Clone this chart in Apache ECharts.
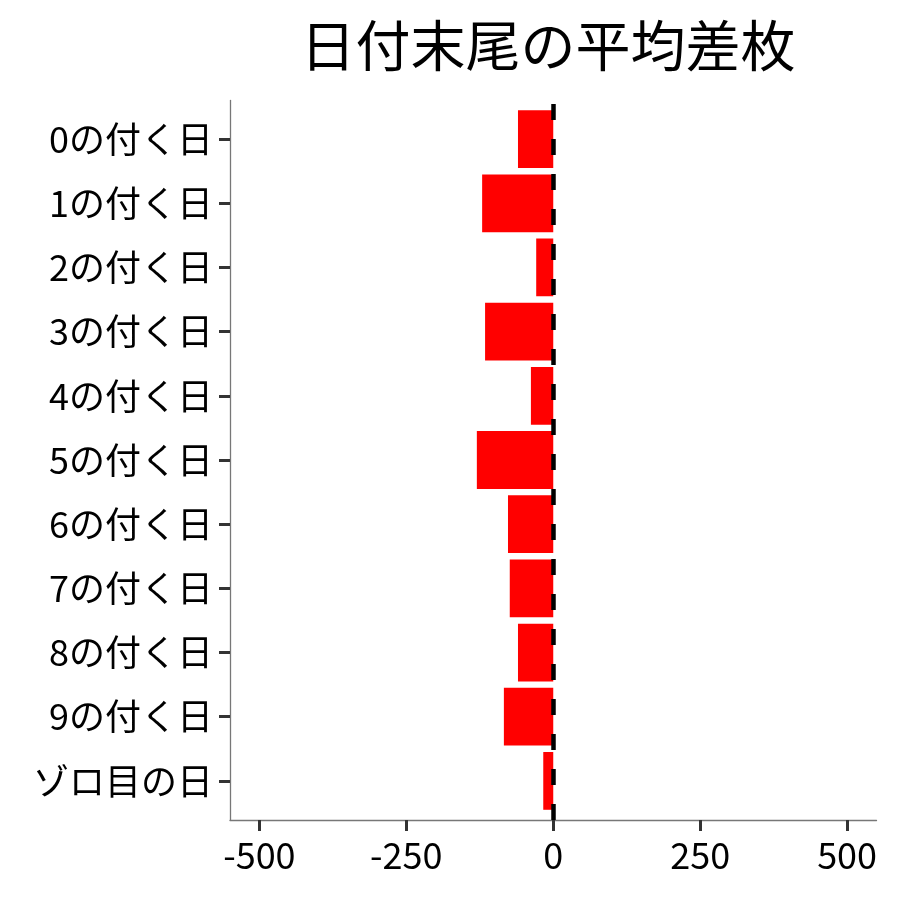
<!DOCTYPE html>
<html><head><meta charset="utf-8">
<script src="https://cdn.jsdelivr.net/npm/echarts@6/dist/echarts.min.js"></script>
<style>html,body{margin:0;padding:0;background:#fff}#c{width:900px;height:900px}</style>
</head><body><div id="c"></div>
<script>
const categories = ['0の付く日','1の付く日','2の付く日','3の付く日','4の付く日','5の付く日','6の付く日','7の付く日','8の付く日','9の付く日','ゾロ目の日'];
const avgDiff = [-60, -121, -29, -116, -38, -130, -77, -74, -60, -84, -17];
const xTicks = [-500, -250, 0, 250, 500];
const titleText = '日付末尾の平均差枚';

const FONT = '"Noto Sans CJK JP", "Noto Sans", sans-serif';
const chart = echarts.init(document.getElementById('c'), null, {renderer: 'canvas'});
chart.setOption({
  animation: false,
  backgroundColor: '#ffffff',
  graphic: [{
    type: 'text', x: 548, y: 45,
    style: { text: titleText, fontSize: 55, fontFamily: FONT, fill: '#000', align: 'center', verticalAlign: 'middle' }
  }],
  grid: [
    { left: 230, right: 23.5, top: 107, bottom: 87 },
    { left: 230, right: 23.5, top: 100.5, bottom: 80 }
  ],
  xAxis: [
    { gridIndex: 0, type: 'value', min: -550, max: 550, show: false },
    { gridIndex: 1, type: 'value', min: -550, max: 550,
      splitLine: { show: false },
      axisLine: { show: true, onZero: false, lineStyle: { color: '#777', width: 1.3 } },
      axisTick: { show: true, length: 11, lineStyle: { color: '#333', width: 3 }, customValues: xTicks },
      axisLabel: { show: true, fontSize: 36, fontFamily: FONT, color: '#000', margin: 17, customValues: xTicks }
    }
  ],
  yAxis: [
    { gridIndex: 0, type: 'category', data: categories, inverse: true, position: 'left',
      axisLine: { show: false, onZero: false },
      axisTick: { show: true, alignWithLabel: true, length: 11, lineStyle: { color: '#333', width: 3 } },
      axisLabel: { fontSize: 36, fontFamily: FONT, color: '#000', margin: 17 },
      splitLine: { show: false }
    },
    { gridIndex: 1, type: 'value', min: 0, max: 1,
      axisLine: { show: true, onZero: false, lineStyle: { color: '#777', width: 1.3 } },
      axisTick: { show: false }, axisLabel: { show: false }, splitLine: { show: false }
    }
  ],
  series: [
    { type: 'bar', xAxisIndex: 0, yAxisIndex: 0, data: avgDiff,
      barCategoryGap: '10%', itemStyle: { color: '#ff0000' }, z: 2 },
    { type: 'line', xAxisIndex: 1, yAxisIndex: 1, data: [], z: 5,
      markLine: { silent: true, symbol: ['none', 'none'], label: { show: false },
        lineStyle: { color: '#000', width: 4.5, type: [16, 19] },
        data: [{ xAxis: 0 }] } }
  ]
});
</script></body></html>
